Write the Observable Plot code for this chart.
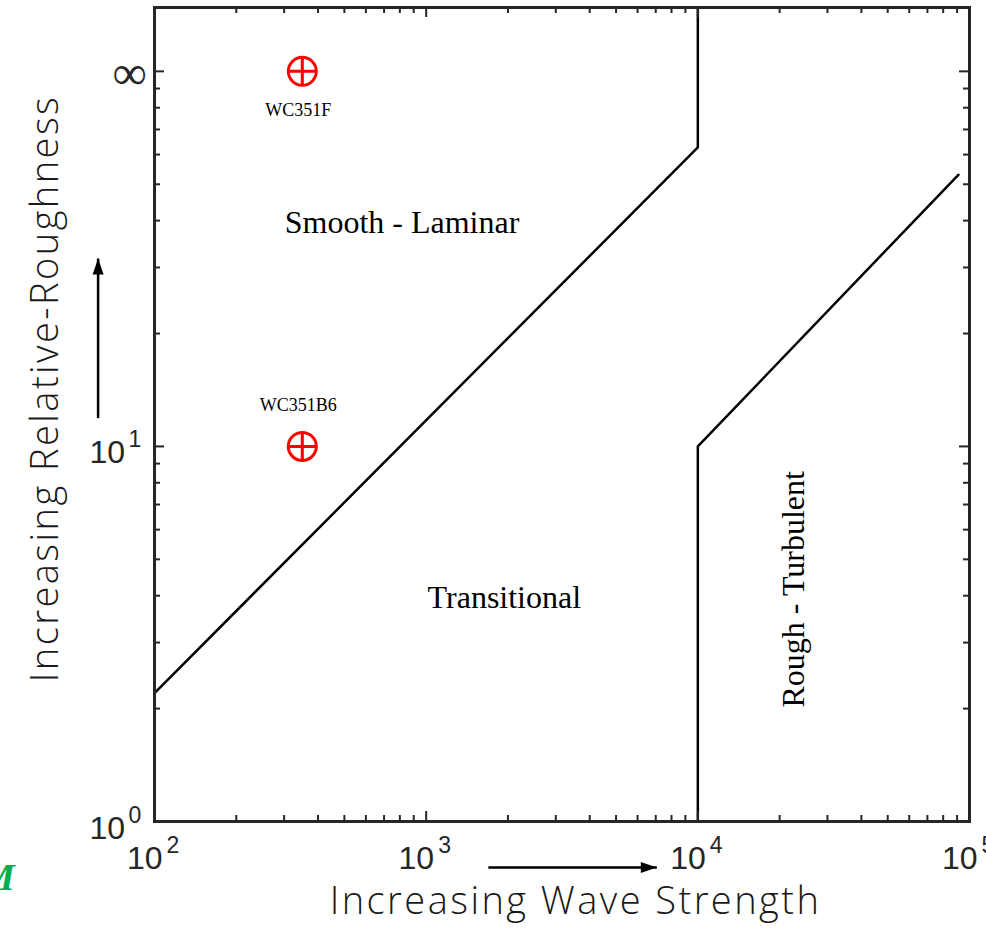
<!DOCTYPE html>
<html><head><meta charset="utf-8">
<script src="https://cdn.jsdelivr.net/npm/d3@7"></script>
<script src="https://cdn.jsdelivr.net/npm/@observablehq/plot@0.6"></script>
<style>
html,body{margin:0;padding:0;background:#fff;overflow:hidden;}
#wrap{position:relative;width:986px;height:931px;overflow:hidden;}
#m{position:absolute;left:-19px;top:858px;font:italic bold 38px "Liberation Serif";line-height:1;color:#00b050;}
</style></head><body><div id="wrap"></div>
<script>
// ---- data ----
const xDecades = [100, 1000, 10000, 100000];
const xExponents = ["2", "3", "4", "5"];
const yDecades = [1, 10];
const yExponents = ["0", "1"];
const yInfinityValue = [100];
const yInfinityLabel = ["∞"];
const minorMultipliers = [2, 3, 4, 5, 6, 7, 8, 9];
const xMinorDecades = [100, 1000, 10000];
const yMinorDecades = [1, 10];

const smoothBoundaryX = [100, 10000, 10000];
const smoothBoundaryY = [2.2, 62.7, 148];
const roughBoundaryX = [10000, 10000, 91000];
const roughBoundaryY = [1, 10, 53];

const sampleNames = ["WC351F", "WC351B6"];
const sampleX = [350, 350];
const sampleY = [100, 10];

const regionNames = ["Smooth - Laminar", "Transitional", "Rough - Turbulent"];
const regionX = [815, 1940, 24600];
const regionY = [37, 3.72, 4.16];

const arrowX1 = [62, 1694];
const arrowY1 = [11.9, 0.754];
const arrowX2 = [62, 7063];
const arrowY2 = [31.7, 0.754];

const xTitle = "Increasing Wave Strength";
const yTitle = "Increasing Relative-Roughness";

// ---- layout ----
const W = 986, H = 931, mL = 154, mR = 17, mT = 7, mB = 110;
const plotW = W - mL - mR, plotH = H - mT - mB;
const axisColor = "#262626";

const xMinor = xMinorDecades.flatMap(d => minorMultipliers.map(m => d * m));
const yMinor = yMinorDecades.flatMap(d => minorMultipliers.map(m => d * m));
const yMajorAll = yDecades.concat(yInfinityValue);

const smooth = smoothBoundaryX.map((x, i) => ({x, y: smoothBoundaryY[i]}));
const rough = roughBoundaryX.map((x, i) => ({x, y: roughBoundaryY[i]}));
const samples = sampleNames.map((name, i) => ({name, x: sampleX[i], y: sampleY[i]}));
const regions = regionNames.map((name, i) => ({name, x: regionX[i], y: regionY[i]}));
const arrows = arrowX1.map((x1, i) => ({x1, y1: arrowY1[i], x2: arrowX2[i], y2: arrowY2[i]}));

const circlePlus = {
  draw(ctx, size) {
    const r = Math.sqrt(size / Math.PI);
    ctx.moveTo(r, 0); ctx.arc(0, 0, r, 0, 2 * Math.PI);
    ctx.moveTo(-r, 0); ctx.lineTo(r, 0);
    ctx.moveTo(0, -r); ctx.lineTo(0, r);
  }
};
const headUp = {draw(ctx) { ctx.moveTo(0, 0); ctx.lineTo(-5.5, 16); ctx.lineTo(5.5, 16); ctx.closePath(); }};
const headRight = {draw(ctx) { ctx.moveTo(0, 0); ctx.lineTo(-16, -5.5); ctx.lineTo(-16, 5.5); ctx.closePath(); }};

const tickFont = "'Liberation Sans', Arial, Helvetica, sans-serif";
const serif = "'Liberation Serif', 'Times New Roman', serif";
const titleFont = "'Open Sans', sans-serif";

const chart = Plot.plot({
  width: W, height: H,
  marginLeft: mL, marginRight: mR, marginTop: mT, marginBottom: mB,
  x: {type: "log", domain: [100, 100000], axis: null},
  y: {type: "log", domain: [1, 148], axis: null},
  style: {background: "white", overflow: "visible"},
  marks: [
    // boundaries
    Plot.line(smooth, {x: "x", y: "y", stroke: "black", strokeWidth: 2.5}),
    Plot.line(rough, {x: "x", y: "y", stroke: "black", strokeWidth: 2.5}),
    // inward ticks: bottom / top
    Plot.tickX(xDecades, {x: d => d, insetTop: plotH - 10, stroke: axisColor, strokeWidth: 2}),
    Plot.tickX(xMinor, {x: d => d, insetTop: plotH - 6, stroke: axisColor, strokeWidth: 2}),
    Plot.tickX(xDecades, {x: d => d, insetBottom: plotH - 10, stroke: axisColor, strokeWidth: 2}),
    Plot.tickX(xMinor, {x: d => d, insetBottom: plotH - 6, stroke: axisColor, strokeWidth: 2}),
    // inward ticks: left / right
    Plot.tickY(yMajorAll, {y: d => d, insetRight: plotW - 10, stroke: axisColor, strokeWidth: 2}),
    Plot.tickY(yMinor, {y: d => d, insetRight: plotW - 6, stroke: axisColor, strokeWidth: 2}),
    Plot.tickY(yMajorAll, {y: d => d, insetLeft: plotW - 10, stroke: axisColor, strokeWidth: 2}),
    Plot.tickY(yMinor, {y: d => d, insetLeft: plotW - 6, stroke: axisColor, strokeWidth: 2}),
    Plot.frame({stroke: axisColor, strokeWidth: 3}),
    // x tick labels
    Plot.text(xDecades, {x: d => d, y: () => 1, text: () => "10", textAnchor: "end", lineAnchor: "bottom", dx: 8, dy: 47, fontSize: 32, fontFamily: tickFont, fill: axisColor}),
    Plot.text(xDecades, {x: d => d, y: () => 1, text: (d, i) => xExponents[i], textAnchor: "start", lineAnchor: "bottom", dx: 12, dy: 31, fontSize: 23, fontFamily: tickFont, fill: axisColor}),
    // y tick labels
    Plot.text(yDecades, {x: () => 100, y: d => d, text: () => "10", textAnchor: "end", lineAnchor: "bottom", dx: -29.5, dy: 17, fontSize: 32, fontFamily: tickFont, fill: axisColor}),
    Plot.text(yDecades, {x: () => 100, y: d => d, text: (d, i) => yExponents[i], textAnchor: "start", lineAnchor: "bottom", dx: -26, dy: 1, fontSize: 23, fontFamily: tickFont, fill: axisColor}),
    Plot.text(yInfinityValue, {x: () => 100, y: d => d, text: (d, i) => yInfinityLabel[i], textAnchor: "middle", lineAnchor: "middle", dx: -25, dy: 2, fontSize: 48, fontFamily: serif, fill: axisColor}),
    // samples
    Plot.dot(samples, {x: "x", y: "y", r: 14, symbol: circlePlus, stroke: "red", fill: "none", strokeWidth: 3}),
    Plot.text(samples.slice(0, 1), {x: "x", y: "y", text: "name", lineAnchor: "bottom", dx: -4, dy: 45, fontSize: 18, fontFamily: serif, fill: "black"}),
    Plot.text(samples.slice(1), {x: "x", y: "y", text: "name", lineAnchor: "bottom", dx: -4, dy: -35, fontSize: 18, fontFamily: serif, fill: "black"}),
    // region labels
    Plot.text(regions.slice(0, 2), {x: "x", y: "y", text: "name", lineAnchor: "bottom", fontSize: 32, fontFamily: serif, fill: "black"}),
    Plot.text(regions.slice(2), {x: "x", y: "y", text: "name", lineAnchor: "bottom", rotate: -90, fontSize: 32, fontFamily: serif, fill: "black"}),
    // direction arrows
    Plot.link(arrows, {x1: "x1", y1: "y1", x2: "x2", y2: "y2", stroke: "black", strokeWidth: 2.5}),
    Plot.dot(arrows.slice(0, 1), {x: "x2", y: "y2", symbol: headUp, fill: "black", stroke: "none"}),
    Plot.dot(arrows.slice(1), {x: "x2", y: "y2", symbol: headRight, fill: "black", stroke: "none"}),
    // axis titles
    Plot.text([xTitle], {frameAnchor: "bottom", text: d => d, textAnchor: "middle", lineAnchor: "bottom", dx: 13.5, dy: 92, fontSize: 38, fontWeight: 300, fontFamily: titleFont, fill: "#1a1a1a"}),
    Plot.text([yTitle], {frameAnchor: "left", text: d => d, textAnchor: "middle", rotate: -90, lineAnchor: "bottom", dx: -97, dy: -26, fontSize: 38, fontWeight: 300, fontFamily: titleFont, fill: "#1a1a1a"})
  ]
});
// widen the title lettering as in the reference
d3.select(chart).selectAll("text")
  .filter(function() { return this.textContent === xTitle || this.textContent === yTitle; })
  .attr("letter-spacing", 2.45);
const wrap = document.getElementById("wrap");
wrap.appendChild(chart);
const m = document.createElement("div");
m.id = "m"; m.textContent = "M";
wrap.appendChild(m);
</script>
</body></html>
